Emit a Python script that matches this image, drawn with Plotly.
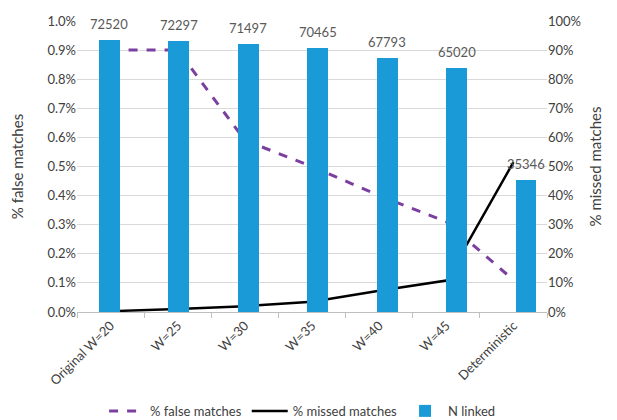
import plotly.graph_objects as go

categories = ["Original W=20", "W=25", "W=30", "W=35", "W=40", "W=45", "Deterministic"]
n_linked = [72520, 72297, 71497, 70465, 67793, 65020, 35346]
false_matches = [0.90, 0.90, 0.59, 0.50, 0.40, 0.31, 0.11]   # % (left axis)
missed_matches = [0.3, 1.0, 2.0, 3.5, 7.3, 10.8, 51.5]       # % (right axis)

FONT = "Lato"
TXT = "#404040"

fig = go.Figure()

fig.add_trace(go.Bar(
    x=categories, y=n_linked, name="N linked",
    marker=dict(color="#1a9ad6", line=dict(width=0)),
    width=0.30,
    xaxis="x2", yaxis="y3", legendrank=3,
))

fig.add_trace(go.Scatter(
    x=categories, y=false_matches, name="% false matches", mode="lines",
    line=dict(color="#7b3fa0", width=3, dash="dash"),
    yaxis="y", legendrank=1,
))

fig.add_trace(go.Scatter(
    x=categories, y=missed_matches, name="% missed matches", mode="lines",
    line=dict(color="#000000", width=2.5),
    yaxis="y2", legendrank=2,
))

for c, v in zip(categories, n_linked):
    fig.add_annotation(x=c, y=v, xref="x2", yref="y3", text=str(v),
                       showarrow=False, yanchor="bottom", yshift=6,
                       font=dict(family=FONT, size=13, color="#595959"))

fig.update_layout(
    width=617, height=420,
    margin=dict(l=77, r=70, t=21, b=108, autoexpand=False),
    paper_bgcolor="white", plot_bgcolor="white",
    font=dict(family=FONT, size=13, color=TXT),
    showlegend=True,
    legend=dict(orientation="h", x=0.48, xanchor="center", y=-0.34, yanchor="middle",
                font=dict(family=FONT, size=13, color=TXT), itemwidth=36,
                traceorder="normal"),
    xaxis=dict(type="category", range=[-0.5, 6.5], showgrid=False,
               showline=True, linecolor="#bfbfbf", linewidth=1,
               ticks="outside", tickson="boundaries", ticklen=5, tickcolor="#bfbfbf",
               tickangle=-45, tickfont=dict(family=FONT, size=13, color=TXT)),
    xaxis2=dict(type="category", overlaying="x", visible=False,
                range=[-0.468, 6.303], anchor="y3"),
    yaxis=dict(range=[0, 1.0], dtick=0.1, tickformat=".1f", ticksuffix="%",
               showgrid=True, gridcolor="#d9d9d9", gridwidth=1, zeroline=False,
               showline=False, ticks="",
               title=dict(text="% false matches", font=dict(family=FONT, size=15, color=TXT), standoff=20),
               tickfont=dict(family=FONT, size=13, color=TXT)),
    yaxis2=dict(range=[0, 100], dtick=10, ticksuffix="%", overlaying="y", side="right",
                showgrid=False, zeroline=False, showline=False, ticks="",
                title=dict(text="% missed matches", font=dict(family=FONT, size=15, color=TXT), standoff=10),
                tickfont=dict(family=FONT, size=13, color=TXT)),
    yaxis3=dict(range=[0, 77700], overlaying="y", visible=False, anchor="x2"),
    bargap=0,
)

fig.write_html("out.html", config={"displayModeBar": False},
               post_script="document.body.style.margin='0px';")
